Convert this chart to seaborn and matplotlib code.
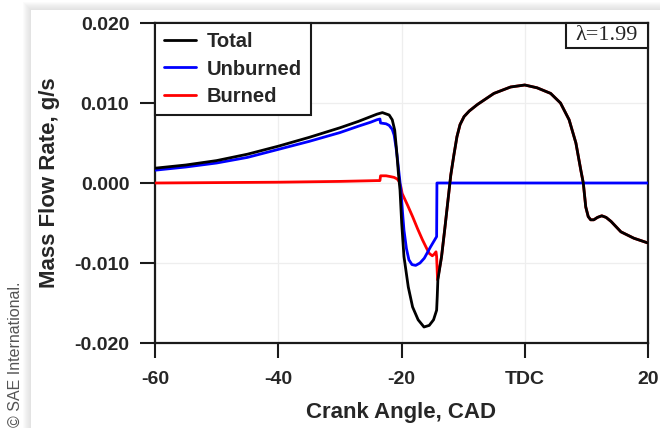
import matplotlib
matplotlib.use("Agg")
import matplotlib.pyplot as plt
from matplotlib.patches import Rectangle
from matplotlib.lines import Line2D
import numpy as np
import pandas as pd
import seaborn as sns

# Crank angle (CAD) and mass flow rate (g/s) for each stream
total_angle = [-60, -55, -50, -45, -40, -35, -30, -27, -25, -24, -23.1, -22.0, -21.5,
               -21.1, -20.8, -20.5, -20.24, -19.97, -19.6, -18.9, -18.2, -17.3, -16.35,
               -15.5, -14.8, -14.3, -14.2, -14.1, -13.5, -13.0, -12.45, -12.0, -11.5,
               -11.0, -10.5, -9.85, -9.0, -7.7, -5.0, -2.3, 0.0, 2.0, 4.2, 5.8, 7.2,
               8.3, 9.1, 9.5, 9.9, 10.3, 10.7, 11.2, 11.8, 12.5, 13.2, 14.0, 15.6,
               17.7, 20.0]
total_rate = [0.00185, 0.00225, 0.0028, 0.0036, 0.0046, 0.0057, 0.0069, 0.0077, 0.0083,
              0.0086, 0.0088, 0.0085, 0.0079, 0.0066, 0.0041, 0.0012, -0.0009, -0.0050,
              -0.0092, -0.0130, -0.0155, -0.0171, -0.0180, -0.0178, -0.0171, -0.0159,
              -0.0142, -0.0121, -0.0092, -0.0059, -0.0021, 0.0010, 0.0035, 0.0058,
              0.0073, 0.0083, 0.0090, 0.0098, 0.0112, 0.0120, 0.01225, 0.0119, 0.0112,
              0.0100, 0.0079, 0.0050, 0.0016, 0.0000, -0.0030, -0.0042, -0.0046,
              -0.0046, -0.0043, -0.0041, -0.0043, -0.0048, -0.0061, -0.0069, -0.0075]

unburned_angle = [-60, -55, -50, -45, -40, -35, -30, -27, -25, -24, -23.5, -23.4, -22.5,
                  -22.0, -21.5, -21.2, -20.9, -20.7, -20.4, -20.1, -19.8, -19.6, -19.2,
                  -18.8, -18.3, -17.7, -17.0, -16.3, -15.3, -14.3, -14.25, 20.0]
unburned_rate = [0.0016, 0.0020, 0.0025, 0.0032, 0.0042, 0.0052, 0.0063, 0.0071, 0.0076,
                 0.0079, 0.0080, 0.0075, 0.0074, 0.0072, 0.0067, 0.0060, 0.0045, 0.0033,
                 0.0012, -0.0009, -0.0040, -0.0059, -0.0082, -0.0096, -0.0102, -0.0103,
                 -0.0100, -0.0094, -0.0080, -0.0067, 0.0000, 0.0000]

burned_angle = [-60, -50, -40, -30, -24, -23.5, -23.4, -22.5, -21.8, -21.2, -20.7, -20.4,
                -20.1, -19.9, -19.0, -18.2, -17.4, -16.6, -15.9, -15.5, -15.0, -14.7,
                -14.4, -14.3, -14.15, -13.5, -13.0, -12.45, -12.0, -11.5, -11.0, -10.5,
                -9.85, -9.0, -7.7, -5.0, -2.3, 0.0, 2.0, 4.2, 5.8, 7.2, 8.3, 9.1, 9.5,
                9.9, 10.3, 10.7, 11.2, 11.8, 12.5, 13.2, 14.0, 15.6, 17.7, 20.0]
burned_rate = [0.0000, 0.00005, 0.0001, 0.0002, 0.0003, 0.0003, 0.0009, 0.0009, 0.0008,
               0.0007, 0.0005, 0.0002, -0.0005, -0.0013, -0.0028, -0.0042, -0.0057,
               -0.0071, -0.0082, -0.0088, -0.0091, -0.0089, -0.0086, -0.0092, -0.0121,
               -0.0092, -0.0059, -0.0021, 0.0010, 0.0035, 0.0058, 0.0073, 0.0083,
               0.0090, 0.0098, 0.0112, 0.0120, 0.01225, 0.0119, 0.0112, 0.0100, 0.0079,
               0.0050, 0.0016, 0.0000, -0.0030, -0.0042, -0.0046, -0.0046, -0.0043,
               -0.0041, -0.0043, -0.0048, -0.0061, -0.0069, -0.0075]

series_names = ["Total", "Unburned", "Burned"]
series_colors = {"Total": "#000000", "Unburned": "#0000ff", "Burned": "#ff0000"}

x_ticks = [-60, -40, -20, 0, 20]
x_tick_labels = ["-60", "-40", "-20", "TDC", "20"]
y_ticks = [-0.020, -0.010, 0.000, 0.010, 0.020]
y_tick_labels = ["-0.020", "-0.010", "0.000", "0.010", "0.020"]

frames = {
    "Total": pd.DataFrame({"angle": total_angle, "rate": total_rate}),
    "Unburned": pd.DataFrame({"angle": unburned_angle, "rate": unburned_rate}),
    "Burned": pd.DataFrame({"angle": burned_angle, "rate": burned_rate}),
}

sns.set_theme(style="ticks")
plt.rcParams["font.family"] = ["Liberation Sans", "DejaVu Sans"]
plt.rcParams["axes.unicode_minus"] = False

W, H = 660, 428
fig = plt.figure(figsize=(W / 100, H / 100), dpi=100, facecolor="white")

# page panel with a soft drop shadow, kept behind the axes
px, py = 31 / W, 10 / H
for i in range(8, 0, -1):
    fig.patches.append(Rectangle((px - i / W, 0), 1, 1 - py + i / H,
                                 transform=fig.transFigure, facecolor="#9a9a9a",
                                 alpha=0.035, edgecolor="none", zorder=-5))
fig.patches.append(Rectangle((px, 0), 1, 1 - py, transform=fig.transFigure,
                             facecolor="white", edgecolor="none", zorder=-4))

ax = fig.add_axes([155 / W, (H - 343) / H, (648 - 155) / W, (343 - 23) / H])
ax.set_facecolor("white")

for name, z in (("Burned", 3), ("Unburned", 4), ("Total", 5)):
    sns.lineplot(data=frames[name], x="angle", y="rate", ax=ax, color=series_colors[name],
                 linewidth=2.0, sort=False, estimator=None, zorder=z)

ax.set_xlim(-60, 20)
ax.set_ylim(-0.020, 0.020)
ax.set_xticks(x_ticks)
ax.set_xticklabels(x_tick_labels)
ax.set_yticks(y_ticks)
ax.set_yticklabels(y_tick_labels)
ax.grid(True, color="#eeeeee", linewidth=0.9, zorder=0)
ax.set_axisbelow(True)

for s in ax.spines.values():
    s.set_visible(True)
    s.set_linewidth(1.6)
    s.set_color("#1a1a1a")
ax.tick_params(axis="both", direction="out", length=10.5, width=1.5, color="#1a1a1a",
               labelsize=14)
ax.tick_params(axis="x", pad=10)
ax.tick_params(axis="y", pad=8)
for lab in ax.get_xticklabels() + ax.get_yticklabels():
    lab.set_fontweight("bold")

ax.set_xlabel("Crank Angle, CAD", fontsize=16, fontweight="bold", labelpad=10)
ax.set_ylabel("Mass Flow Rate, g/s", fontsize=16, fontweight="bold", labelpad=10)

handles = [Line2D([], [], color=series_colors[n], linewidth=2.0) for n in series_names]
leg = ax.legend(handles, series_names, loc="upper left", bbox_to_anchor=(0, 1),
                borderaxespad=0, fancybox=False, framealpha=1, edgecolor="#1a1a1a",
                prop={"weight": "bold", "size": 14.5}, handlelength=1.6,
                handletextpad=0.5, labelspacing=0.42, borderpad=0.45)
leg.get_frame().set_linewidth(1.5)
leg.set_zorder(10)

# air-fuel ratio tag in the upper right corner
ax.add_patch(Rectangle(((566 - 155) / 493, (343 - 48) / 320), 1 - (566 - 155) / 493,
                       (48 - 23) / 320, transform=ax.transAxes,
                       facecolor="white", edgecolor="#1a1a1a", linewidth=1.5,
                       zorder=10, clip_on=False))
ax.text(((566 + 648) / 2 - 155) / 493, (343 - 35.5) / 320, "λ=1.99",
        transform=ax.transAxes, ha="center", va="center", zorder=11,
        family=["Liberation Serif", "DejaVu Serif"], fontsize=16)

fig.text(15 / W, 1 / H, "© SAE International.", rotation=90, ha="center", va="bottom",
         fontsize=11.5, color="#555555")

fig.savefig("out.png", dpi=100, facecolor="white")
